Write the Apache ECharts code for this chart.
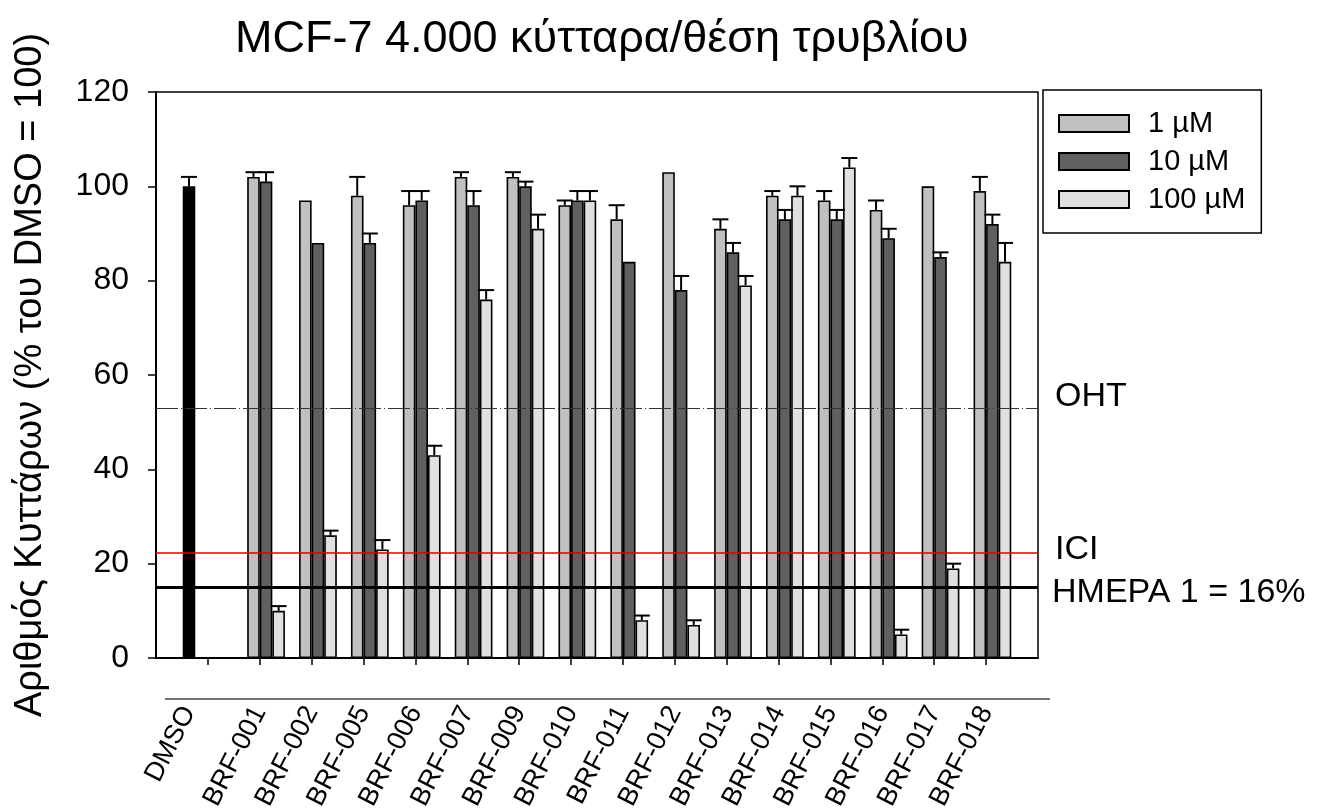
<!DOCTYPE html>
<html><head><meta charset="utf-8">
<script src="https://cdn.jsdelivr.net/npm/echarts@6/dist/echarts.min.js"></script>
<style>html,body{margin:0;padding:0;background:#fff}#c{width:1332px;height:810px}</style>
</head><body><div id="c"></div>
<script>
const categories = ['DMSO','BRF-001','BRF-002','BRF-005','BRF-006','BRF-007','BRF-009','BRF-010','BRF-011','BRF-012','BRF-013','BRF-014','BRF-015','BRF-016','BRF-017','BRF-018'];
const dmsoValue = [100];
const dmsoErr = [2];
const v1   = [null,102,97,98,96,102,102,96,93,103,91,98,97,95,100,99];
const e1   = [null,1,0,4,3,1,1,1,3,0,2,1,2,2,0,3];
const v10  = [null,101,88,88,97,96,100,97,84,78,86,93,93,89,85,92];
const e10  = [null,2,0,2,2,3,1,2,0,3,2,2,2,2,1,2];
const v100 = [null,10,26,23,43,76,91,97,8,7,79,98,104,5,19,84];
const e100 = [null,1,1,2,2,2,3,2,1,1,2,2,2,1,1,4];
const yTicks = [0,20,40,60,80,100,120];
const seriesNames = ['1 µM','10 µM','100 µM'];
const refOHT = 53, refICI = 22.3, refDay1 = 15;
const refLabels = ['OHT','ICI','ΗΜΕΡΑ 1 = 16%'];

const FONT = '"Liberation Sans", Arial, sans-serif';
const BAR_FRAC = 0.2425;
const xPos = categories.map((c,i)=>i+1);
// DMSO label sits under the DMSO bar (slot 0), others under the group centre
const labelPos = xPos.map((x,i)=> i===0 ? x - 1.5*BAR_FRAC : x);

function barData(vals){ return vals.map((v,i)=> v==null ? null : [xPos[i], v]).filter(d=>d); }
function errData(vals, errs){ return vals.map((v,i)=> (v==null||!errs[i]) ? null : [xPos[i], v, errs[i]]).filter(d=>d); }
function makeErr(slot){
  return function(params, api){
    const x = api.value(0), y = api.value(1), err = api.value(2);
    const band = api.size([1,0])[0];
    const w = band*BAR_FRAC;
    const p0 = api.coord([x,y]); const p1 = api.coord([x,y+err]);
    const cx = p0[0] + (slot-1.5)*w;
    return {type:'group', children:[
      {type:'line', shape:{x1:cx,y1:p0[1],x2:cx,y2:p1[1]}, style:{stroke:'#000',lineWidth:2}},
      {type:'line', shape:{x1:cx-8,y1:p1[1],x2:cx+8,y2:p1[1]}, style:{stroke:'#000',lineWidth:2}}
    ]};
  };
}
function barSeries(name, data, color){
  return {name, type:'bar', xAxisIndex:0, data, barWidth:(BAR_FRAC*100)+'%', barGap:'0%',
    itemStyle:{color, borderColor:'#000', borderWidth:1.6}, z:2};
}
function errSeries(data, slot){
  return {type:'custom', xAxisIndex:0, data, renderItem:makeErr(slot), encode:{x:0,y:1}, z:3, silent:true};
}

const dmsoBar = barSeries('DMSO', [[xPos[0], dmsoValue[0]]], '#000');
dmsoBar.markLine = {
  silent:true, symbol:'none', label:{show:false},
  data:[
    {yAxis:refOHT, lineStyle:{color:'#333', width:1, type:[22,3,1,3]}},
    {yAxis:refICI, lineStyle:{color:'#e00000', width:1.5, type:'solid'}},
    {yAxis:refDay1, lineStyle:{color:'#000', width:3, type:'solid'}}
  ]
};

const option = {
  animation:false,
  backgroundColor:'#fff',
  textStyle:{fontFamily:FONT},
  title:{text:'MCF-7 4.000 κύτταρα/θέση τρυβλίου', left:230, top:12,
    textStyle:{fontSize:45, fontWeight:'normal', color:'#000', fontFamily:FONT}},
  legend:{data:seriesNames, orient:'vertical', left:1043, top:90,
    padding:[19,16,19,15], itemWidth:70, itemHeight:17, itemGap:9,
    borderColor:'#000', borderWidth:1.5, icon:'rect',
    textStyle:{fontSize:29, color:'#000', fontFamily:FONT, padding:[0,0,0,14]}},
  grid:{left:156, right:294, top:92, bottom:152, containLabel:false, outerBoundsMode:'none',
    show:true, borderColor:'#000', borderWidth:1.5, backgroundColor:'transparent'},
  xAxis:[
    {type:'value', min:0, max:17, interval:1, position:'bottom',
      axisLine:{show:true, lineStyle:{color:'#000', width:2}},
      axisTick:{show:true, length:7, lineStyle:{color:'#000', width:1.5}, customValues:xPos},
      axisLabel:{show:false}, splitLine:{show:false}},
    {type:'value', min:0, max:17, interval:1, position:'bottom', offset:41,
      axisLine:{show:false},
      axisTick:{show:false}, splitLine:{show:false},
      axisLabel:{show:true, customValues:labelPos, rotate:63, margin:9, fontSize:27, color:'#000', fontFamily:FONT,
        formatter:(v)=>categories[Math.round(v)-1] || ''}}
  ],
  yAxis:{type:'value', min:0, max:120, interval:20,
    name:'Αριθμός Κυττάρων (% του DMSO = 100)', nameLocation:'middle', nameGap:106, nameRotate:90,
    nameTextStyle:{fontSize:38, color:'#000', fontFamily:FONT},
    axisLine:{show:true, lineStyle:{color:'#000', width:2}},
    axisTick:{show:true, inside:false, length:8, lineStyle:{color:'#000', width:1.5}},
    axisLabel:{fontSize:32, color:'#000', margin:27, fontFamily:FONT, formatter:(v)=> yTicks.includes(v) ? String(v) : ''},
    splitLine:{show:false}},
  series:[
    dmsoBar,
    barSeries(seriesNames[0], barData(v1), '#c0c0c0'),
    barSeries(seriesNames[1], barData(v10), '#606060'),
    barSeries(seriesNames[2], barData(v100), '#e0e0e0'),
    errSeries([[xPos[0], dmsoValue[0], dmsoErr[0]]], 0),
    errSeries(errData(v1,e1), 1),
    errSeries(errData(v10,e10), 2),
    errSeries(errData(v100,e100), 3)
  ]
};
const chart = echarts.init(document.getElementById('c'), null, {renderer:'canvas'});
chart.setOption(option);

// reference-line labels, placed with the library's y scale
const yPix = (v)=> chart.convertToPixel({yAxisIndex:0}, v);
const lblStyle = (t)=>({text:t, fill:'#000', fontSize:34, fontFamily:FONT, textAlign:'left', textVerticalAlign:'middle', verticalAlign:'middle'});
chart.setOption({graphic:[
  {type:'line', silent:true, shape:{x1:165, y1:699, x2:1050, y2:699}, style:{stroke:'#444', lineWidth:1.5}},
  {type:'text', silent:true, x:1055, y:yPix(refOHT)-11, style:lblStyle(refLabels[0])},
  {type:'text', silent:true, x:1055, y:yPix(refICI)-3, style:lblStyle(refLabels[1])},
  {type:'text', silent:true, x:1052, y:yPix(refDay1)+5, style:lblStyle(refLabels[2])}
]});
</script></body></html>
